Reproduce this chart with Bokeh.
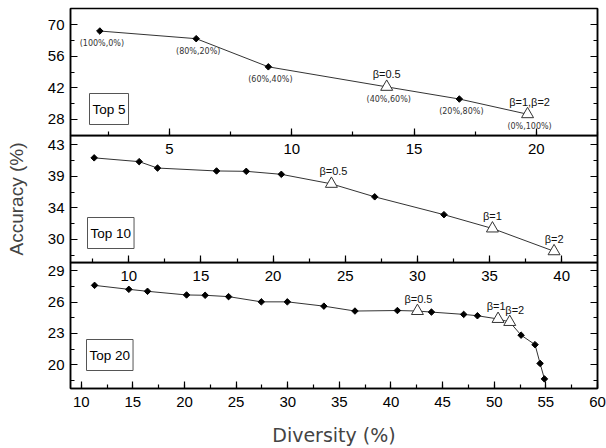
import numpy as np
from bokeh.plotting import figure
from bokeh.layouts import column
from bokeh.models import (Range1d, LinearAxis, FixedTicker, SingleIntervalTicker,
                          NumeralTickFormatter, Label)
from bokeh.core.properties import value
from bokeh.embed import file_html
from bokeh.resources import INLINE

# ---------------- data ----------------
top5_div = [2.15, 6.09, 9.04, 13.88, 16.85, 19.64]
top5_acc = [67.2, 63.8, 51.3, 42.4, 37.0, 30.25]
top5_kind = ["d", "d", "d", "t", "d", "t"]
top5_ratio = ["(100%,0%)", "(80%,20%)", "(60%,40%)", "(40%,60%)", "(20%,80%)", "(0%,100%)"]
top5_beta = ["", "", "", "β=0.5", "", "β=1,β=2"]

top10_div = [7.6, 10.72, 11.99, 16.08, 18.14, 20.57, 24.04, 27.04, 31.84, 35.2, 39.47]
top10_acc = [41.2, 40.68, 39.8, 39.4, 39.35, 38.94, 37.63, 35.85, 33.4, 31.5, 28.37]
top10_kind = ["d", "d", "d", "d", "d", "d", "t", "d", "d", "t", "t"]
top10_beta = ["", "", "", "", "", "", "β=0.5", "", "", "β=1", "β=2"]

top20_div = [11.29, 14.61, 16.42, 20.2, 22.0, 24.27, 27.44, 29.96, 33.5, 36.51, 40.62,
             42.56, 43.92, 47.04, 48.37, 50.37, 51.5, 52.6, 53.95, 54.44, 54.86]
top20_acc = [27.61, 27.23, 27.04, 26.69, 26.66, 26.53, 26.03, 26.03, 25.62, 25.15, 25.2,
             25.15, 25.05, 24.83, 24.7, 24.39, 24.1, 22.84, 21.93, 20.13, 18.65]
top20_kind = ["d"] * 11 + ["t", "d", "d", "d", "t", "t", "d", "d", "d", "d"]
top20_beta = [""] * 11 + ["β=0.5", "", "", "", "β=1", "β=2", "", "", "", ""]

top5_yticks = [28, 42, 56, 70]
top5_yminor = [21, 35, 49, 63, 77]
top10_yticks = [30, 30 + 13 / 3, 30 + 26 / 3, 43]
top10_yminor = [30 - 13 / 6, 30 + 13 / 6, 30 + 13 / 2, 30 + 65 / 6, 43 + 13 / 6]
top20_yticks = [20, 23, 26, 29]
top20_yminor = [18.5, 21.5, 24.5, 27.5]

panel_names = ["Top 5", "Top 10", "Top 20"]

# ---------------- style ----------------
FONT = "Liberation Sans"
TICK_FS = "15px"
W = 606
FRAME_H = 127
LEFT = 70
RIGHT = 9
OVERLAP = 30


def style_panel(p, yticks, yminor):
    p.xgrid.visible = False
    p.ygrid.visible = False
    p.outline_line_color = "black"
    p.outline_line_width = 1.5
    p.xaxis.ticker = SingleIntervalTicker(interval=5, num_minor_ticks=2)
    p.yaxis.ticker = FixedTicker(ticks=yticks, minor_ticks=yminor)
    p.yaxis.formatter = NumeralTickFormatter(format="0")
    for ax in p.xaxis + p.yaxis:
        ax.major_tick_in = 7
        ax.major_tick_out = 0
        ax.minor_tick_in = 4
        ax.minor_tick_out = 0
        ax.axis_line_width = 1.5
        ax.major_tick_line_width = 1.2
        ax.minor_tick_line_width = 1.2
        ax.major_label_text_font = FONT
        ax.major_label_text_font_size = TICK_FS
        ax.major_label_text_color = "black"
    p.xaxis.major_label_standoff = 8
    p.yaxis.major_label_standoff = 6
    rax = LinearAxis(ticker=FixedTicker(ticks=yticks, minor_ticks=yminor),
                     major_label_text_font_size="0px", major_label_text_color=None,
                     major_label_standoff=0,
                     major_tick_in=7, major_tick_out=0, minor_tick_in=4, minor_tick_out=0,
                     axis_line_width=1.5, major_tick_line_width=1.2, minor_tick_line_width=1.2)
    p.add_layout(rax, "right")


def draw_series(p, xs, ys, kinds, betas, beta_dx, ratios=None):
    p.line(xs, ys, line_color="#333333", line_width=1)
    dx = [x for x, k in zip(xs, kinds) if k == "d"]
    dy = [y for y, k in zip(ys, kinds) if k == "d"]
    tx = [x for x, k in zip(xs, kinds) if k == "t"]
    ty = [y for y, k in zip(ys, kinds) if k == "t"]
    p.scatter(dx, dy, marker="square", angle=np.pi / 4, size=4.6,
              fill_color="black", line_color="black", line_width=1)
    p.scatter(tx, ty, marker="triangle", size=12, fill_color="white",
              line_color="#333333", line_width=1)
    bx = [x for x, b in zip(xs, betas) if b]
    by = [y for y, b in zip(ys, betas) if b]
    bt = [b for b in betas if b]
    p.text(bx, by, text=bt, x_offset=beta_dx, y_offset=-12.5, text_align="center",
           text_baseline="middle", text_font=value(FONT), text_font_size="11px",
           text_color="#111111")
    if ratios is not None:
        p.text(xs, ys, text=ratios, x_offset=2, y_offset=12.5, text_align="center",
               text_baseline="middle", text_font=value("DejaVu Sans"),
               text_font_size="8px", text_color="#333333")


def box_label(p, txt, x, y):
    p.add_layout(Label(x=x, y=y, x_units="screen", y_units="screen", text=txt,
                       text_font=FONT, text_font_size="13.5px", text_color="black",
                       border_line_color="#555555", border_line_width=1,
                       background_fill_color="white", padding=(3, 8)))


# ---------------- panel 1: Top 5 ----------------
p1 = figure(width=W, height=8 + FRAME_H + OVERLAP, x_range=Range1d(0.95, 22.5),
            y_range=Range1d(20.8, 77.2), output_backend="svg", toolbar_location=None,
            min_border_left=LEFT, min_border_right=RIGHT, min_border_top=8,
            min_border_bottom=OVERLAP)
style_panel(p1, top5_yticks, top5_yminor)
draw_series(p1, top5_div, top5_acc, top5_kind, top5_beta, [0, 2], ratios=top5_ratio)
box_label(p1, panel_names[0], 19, 11)

# ---------------- panel 2: Top 10 ----------------
p2 = figure(width=W, height=FRAME_H + OVERLAP, x_range=Range1d(5.96, 42.48),
            y_range=Range1d(26.83, 44.27), output_backend="svg", toolbar_location=None,
            min_border_left=LEFT, min_border_right=RIGHT, min_border_top=0,
            min_border_bottom=OVERLAP,
            background_fill_color=None, border_fill_color=None)
p2.margin = (-OVERLAP, 0, 0, 0)
style_panel(p2, top10_yticks, top10_yminor)
p2.yaxis[0].axis_label = "Accuracy (%)"
p2.yaxis[0].axis_label_text_font = FONT
p2.yaxis[0].axis_label_text_font_size = "19px"
p2.yaxis[0].axis_label_text_font_style = "normal"
p2.yaxis[0].axis_label_standoff = 18
draw_series(p2, top10_div, top10_acc, top10_kind, top10_beta, [2, 0, 0])
box_label(p2, panel_names[1], 17, 14)

# ---------------- panel 3: Top 20 ----------------
p3 = figure(width=W, height=FRAME_H + 59, x_range=Range1d(8.96, 60),
            y_range=Range1d(17.73, 29.8), output_backend="svg", toolbar_location=None,
            min_border_left=LEFT, min_border_right=RIGHT, min_border_top=0,
            min_border_bottom=59,
            background_fill_color=None, border_fill_color=None)
p3.margin = (-OVERLAP, 0, 0, 0)
style_panel(p3, top20_yticks, top20_yminor)
p3.xaxis[0].axis_label = "Diversity (%)"
p3.xaxis[0].axis_label_text_font = "DejaVu Sans"
p3.xaxis[0].axis_label_text_font_size = "19px"
p3.xaxis[0].axis_label_text_font_style = "normal"
p3.xaxis[0].axis_label_standoff = 14
draw_series(p3, top20_div, top20_acc, top20_kind, top20_beta, [1, -2, 5])
box_label(p3, panel_names[2], 16, 18)

layout = column(p1, p2, p3, spacing=0)
open("out.html", "w").write(file_html(layout, INLINE))
